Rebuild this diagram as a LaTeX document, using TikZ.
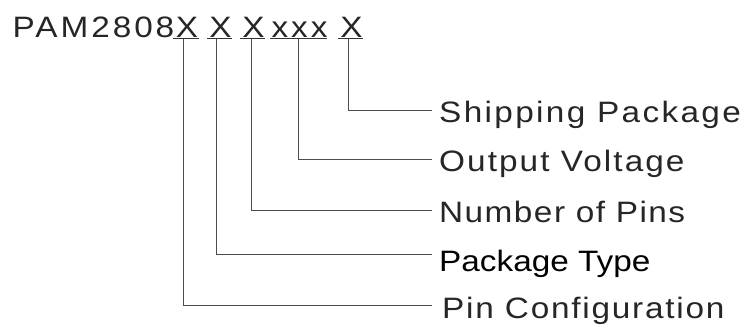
\documentclass[tikz,border=0pt]{standalone}
\usepackage{fontspec}
\setmainfont{Liberation Sans}[FakeStretch=1.13]
\newcommand\spacedfont[1]{\fontspec{Liberation Sans}[FakeStretch=1.13,LetterSpace=#1]\fontsize{29.5}{36}\selectfont}
\begin{document}
\begin{tikzpicture}[x=1pt,y=-1pt,
  title/.style={inner sep=0pt, anchor=base, text=black!85, font=\spacedfont{10}},
  part/.style={title, minimum width=25pt},
  lab/.style={inner sep=0pt, anchor=base west, text=black!85},
  conn/.style={draw=black!70, line width=0.9pt},
  uline/.style={draw=black!80, line width=1pt}]
\useasboundingbox (0,0) rectangle (749,324);
\node[title, anchor=base west] (pam) at (12.5,37) {PAM2808};
\node[part] (x1) at (187,37) {X};
\node[part] (x2) at (220.5,37) {X};
\node[part] (x3) at (253.5,37) {X};
\node[part, minimum width=53pt] (x4) at (299.5,37) {xxx};
\node[part] (x5) at (351.5,37) {X};
\foreach \n in {x1,x2,x3,x4,x5}
  \draw[uline] ([xshift=-1pt,yshift=-1pt]\n.base west) -- ([xshift=-1pt,yshift=-1pt]\n.base east);
\node[lab, font=\spacedfont{8}] (l1) at (439,122) {Shipping Package};
\node[lab, font=\spacedfont{7}] (l2) at (439,171) {Output Voltage};
\node[lab, font=\spacedfont{5}] (l3) at (439,222) {Number of Pins};
\node[lab, font=\spacedfont{0}, text=black] (l4) at (439,271) {Package Type};
\node[lab, font=\spacedfont{6}] (l5) at (442,318) {Pin Configuration};
\coordinate (c1) at (432,110);
\coordinate (c2) at (432,159);
\coordinate (c3) at (432,210);
\coordinate (c4) at (432,254);
\coordinate (c5) at (432,305);
\draw[conn] ([xshift=-3.5pt,yshift=-1.5pt]x5.south) |- (c1);
\draw[conn] ([xshift=-1pt,yshift=-1.5pt]x4.south) |- (c2);
\draw[conn] ([xshift=-2.5pt,yshift=-1.5pt]x3.south) |- (c3);
\draw[conn] ([xshift=-4.5pt,yshift=-1.5pt]x2.south) |- (c4);
\draw[conn] ([xshift=-4pt,yshift=-1.5pt]x1.south) |- (c5);
\end{tikzpicture}
\end{document}
